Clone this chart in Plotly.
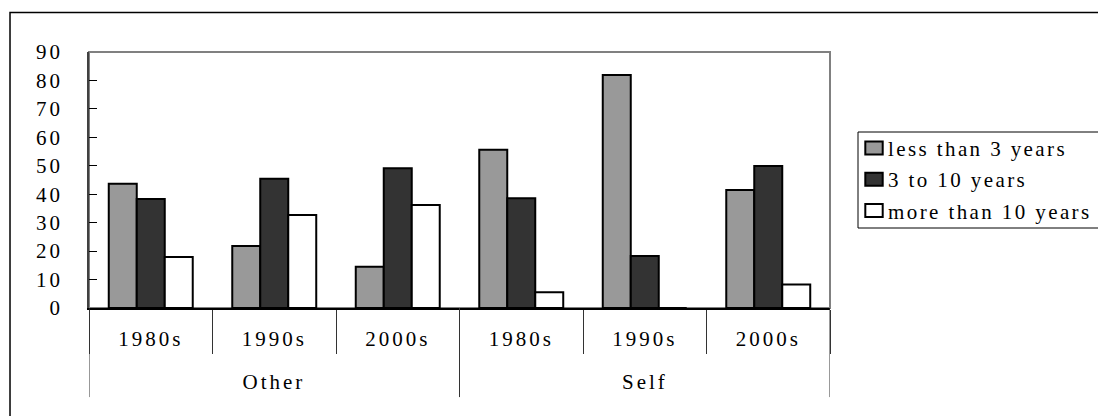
import plotly.graph_objects as go

groups = ["Other", "Other", "Other", "Self", "Self", "Self"]
decades = ["1980s", "1990s", "2000s", "1980s", "1990s", "2000s"]

series_names = ["less than 3 years", "3 to 10 years", "more than 10 years"]
less_than_3 = [43.7, 21.8, 14.5, 55.6, 81.9, 41.5]
three_to_10 = [38.3, 45.4, 49.1, 38.6, 18.3, 49.9]
more_than_10 = [17.9, 32.7, 36.2, 5.5, 0, 8.3]
colors = ["#999999", "#333333", "#ffffff"]

y_ticks = list(range(0, 91, 10))

FONT = "Liberation Serif, Times New Roman, serif"
FS = 21

x_pos = list(range(len(decades)))

fig = go.Figure()
for i, (name, vals) in enumerate(zip(series_names, [less_than_3, three_to_10, more_than_10])):
    fig.add_trace(go.Bar(
        x=x_pos, y=vals, name=name,
        marker=dict(color=colors[i], line=dict(color="black", width=2)),
        legendgroup=f"g{i}",
    ))

# outer group labels and dividers
unique_groups = []
for g in groups:
    if g not in unique_groups:
        unique_groups.append(g)
annotations = []
shapes = []
boundaries = []
for g in unique_groups:
    idx = [i for i, gg in enumerate(groups) if gg == g]
    center = sum(idx) / len(idx)
    annotations.append(dict(
        x=center, y=-0.288, xref="x", yref="paper", text=g, showarrow=False,
        xanchor="center", yanchor="middle", font=dict(family=FONT, size=FS, color="black"),
    ))
    boundaries.append(min(idx) - 0.5)
    boundaries.append(max(idx) + 0.5)
for b in sorted(set(boundaries)):
    shapes.append(dict(type="line", xref="x", yref="paper", x0=b, x1=b, y0=0, y1=-0.348,
                       line=dict(color="#333333", width=1)))

# plot-area frame (grey), outer chart border, legend box
shapes += [
    dict(type="rect", xref="paper", yref="paper", x0=0, x1=1, y0=0, y1=1,
         line=dict(color="#808080", width=2), layer="below"),
    dict(type="rect", xref="paper", yref="paper", x0=-0.1066, x1=1.45, y0=-0.6, y1=1.154,
         line=dict(color="black", width=1.5), layer="below"),
    dict(type="rect", xref="paper", yref="paper", x0=1.0378, x1=1.371, y0=0.3125, y1=0.6875,
         line=dict(color="black", width=1), fillcolor="white", layer="below"),
]

fig.update_layout(
    width=1098, height=408,
    margin=dict(l=81, r=276, t=44, b=108),
    paper_bgcolor="white", plot_bgcolor="white",
    barmode="group", bargap=0.32, bargroupgap=0,
    font=dict(family=FONT, size=FS, color="black"),
    showlegend=True,
    legend=dict(
        x=1.0243, y=0.704, xanchor="left", yanchor="top",
        borderwidth=0, bgcolor="rgba(0,0,0,0)",
        font=dict(family=FONT, size=FS, color="black"),
        traceorder="grouped", tracegroupgap=1,
    ),
    shapes=shapes,
    annotations=annotations,
)

fig.update_yaxes(
    range=[0, 90], tickvals=y_ticks, ticks="inside", ticklen=8, tickcolor="black",
    showline=True, linecolor="#404040", linewidth=1.5, showgrid=False, zeroline=False,
    ticklabelstandoff=20, tickfont=dict(family=FONT, size=FS),
)
fig.update_xaxes(
    range=[-0.5, len(decades) - 0.5], tickvals=x_pos, ticktext=decades,
    ticks="", showline=True, linecolor="black", linewidth=1.5, showgrid=False,
    zeroline=False, ticklabelstandoff=11, tickfont=dict(family=FONT, size=FS),
    minor=dict(tick0=-0.5, dtick=1, ticks="outside", ticklen=44, tickcolor="#333333",
               tickwidth=1, showgrid=False),
)

js = """
var gd = document.getElementById('{plot_id}');
function spaceText(){
  gd.querySelectorAll('.xtick text, .ytick text, .annotation-text').forEach(function(t){
    t.style.letterSpacing = '3px';
  });
  gd.querySelectorAll('.legendtext').forEach(function(t){
    t.style.letterSpacing = '2.4px';
  });
  gd.querySelectorAll('.legend .scrollbox').forEach(function(s){
    s.removeAttribute('clip-path');
    s.style.clipPath = 'none';
  });
  gd.querySelectorAll('.legend .legendpoints path').forEach(function(p){
    if (p.getAttribute('data-orig') === null) {
      p.setAttribute('data-orig', p.getAttribute('transform') || '');
    }
    p.setAttribute('transform', p.getAttribute('data-orig') + ' translate(6,0) scale(1.45,1.08)');
    p.style.vectorEffect = 'non-scaling-stroke';
  });
}
spaceText();
gd.on('plotly_afterplot', spaceText);
"""

fig.write_html("out.html", post_script=js)
